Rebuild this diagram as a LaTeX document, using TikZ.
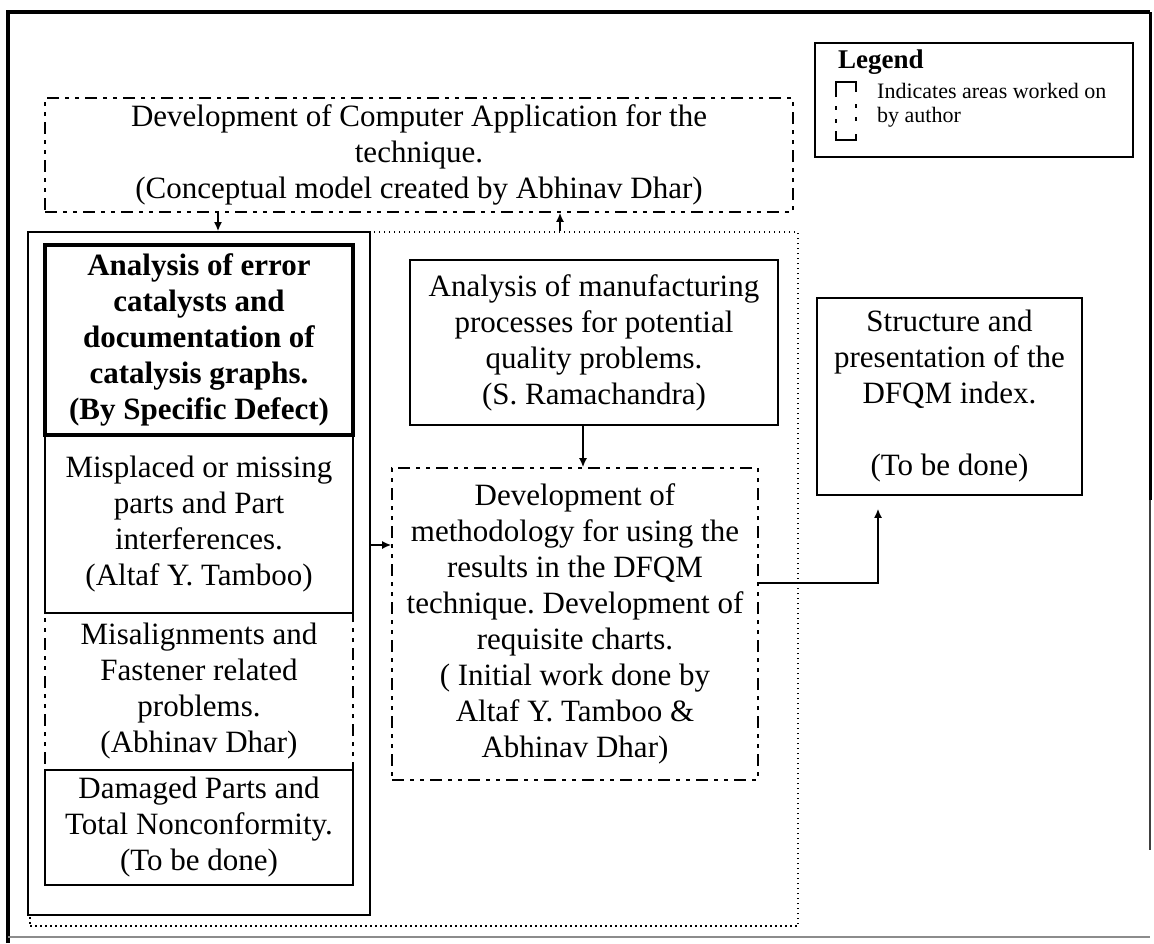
\documentclass[tikz,border=0pt]{standalone}
\usepackage{fontspec}
\setmainfont{Liberation Serif}
\usetikzlibrary{arrows.meta}
\begin{document}
\frenchspacing
\begin{tikzpicture}[x=1pt,y=-1pt,
  solidbox/.style={draw, line width=1.6pt, inner sep=0pt, align=center, font=\fontsize{31}{36}\selectfont},
  authbox/.style={solidbox, dash pattern=on 12pt off 6pt on 4pt off 6pt on 4pt off 6pt},
  boldbox/.style={solidbox, line width=4.5pt, font=\fontsize{31}{36}\selectfont\bfseries},
  dotbox/.style={draw, line width=1.5pt, dash pattern=on 1.5pt off 3.5pt, inner sep=0pt},
  conn/.style={line width=1.6pt, -{Latex[length=9pt,width=8pt]}},
  legline/.style={line width=1.6pt},
]
\useasboundingbox (0,0) rectangle (1154,943);
% page frame
\draw[line width=4pt] (8,943) -- (8,12) -- (1150,12);
\draw[line width=3pt] (1150,12) -- (1150,500);
\draw[line width=2pt, black!75] (1150,500) -- (1150,850);
\draw[line width=1.5pt, black!45] (8,937) -- (1150,937);
% legend
\node[draw, line width=1.4pt, minimum width=318pt, minimum height=114pt, inner sep=0pt] (legend) at (974,100) {};
\node[font=\fontsize{27}{28}\selectfont\bfseries, anchor=west, inner sep=0pt] (legt) at (838,62) {Legend};
\node[font=\fontsize{22}{24}\selectfont, align=left, anchor=west, inner sep=0pt] (legx) at (877,105) {Indicates areas worked on\\by author};
% legend symbol (small dashed box)
\coordinate (s1) at (836,82);
\coordinate (s2) at (856,140);
\draw[legline] (836,97) -- (s1) -- (s1 -| s2) -- (856,92);
\draw[legline] (836,106) -- (836,110);
\draw[legline] (836,119) -- (836,123);
\draw[legline] (856,104) -- (856,108);
\draw[legline] (856,117) -- (856,121);
\draw[legline] (836,131) -- (s1 |- s2) -- (s2) -- (856,134);
% big dotted region
\node[dotbox, minimum width=768pt, minimum height=694pt] (region) at (414,579) {};
% top box
\node[authbox, minimum width=748pt, minimum height=114pt] (dev) at (419,155) {Development of Computer Application for the\\technique.\\(Conceptual model created by Abhinav Dhar)};
% left column container
\node[draw, line width=1.8pt, fill=white, minimum width=342pt, minimum height=683pt, inner sep=0pt] (col) at (199,573.5) {};
\node[authbox, minimum width=308pt, minimum height=157pt] (misalign) at (199,691.5) {Misalignments and\\Fastener related\\problems.\\(Abhinav Dhar)};
\node[solidbox, minimum width=308pt, minimum height=178pt] (misplaced) at (199,524) {Misplaced or missing\\parts and Part\\interferences.\\(Altaf Y. Tamboo)};
\node[solidbox, minimum width=308pt, minimum height=115pt] (damaged) at (199,827.5) {Damaged Parts and\\Total Nonconformity.\\(To be done)};
\node[boldbox, minimum width=308pt, minimum height=190pt] (errcat) at (199,340) {Analysis of error\\catalysts and\\documentation of\\catalysis graphs.\\(By Specific Defect)};
% middle column
\node[solidbox, minimum width=368pt, minimum height=165pt] (rama) at (594,342.5) {Analysis of manufacturing\\processes for potential\\quality problems.\\(S. Ramachandra)};
\node[authbox, minimum width=366pt, minimum height=312pt] (method) at (575,624) {Development of\\methodology for using the\\results in the DFQM\\technique. Development of\\requisite charts.\\( Initial work done by\\Altaf Y. Tamboo \&\\Abhinav Dhar)};
% right box
\node[solidbox, minimum width=265pt, minimum height=197pt] (struct) at (949.5,396.5) {Structure and\\presentation of the\\DFQM index.\\~\\(To be done)};
% connectors
\coordinate (dx) at (218,0);
\coordinate (ux) at (560,0);
\coordinate (ax) at (583,0);
\coordinate (cy) at (0,545);
\coordinate (ry) at (0,583);
\coordinate (sx) at (878,0);
\draw[conn] (dev.south -| dx) -- (col.north -| dx);
\draw[conn] (region.north -| ux) -- (dev.south -| ux);
\draw[conn] (rama.south -| ax) -- (method.north -| ax);
\draw[conn] (col.east |- cy) -- (method.west |- cy);
\draw[conn, shorten >=13pt] (method.east |- ry) -| (struct.south -| sx);
\end{tikzpicture}
\end{document}
